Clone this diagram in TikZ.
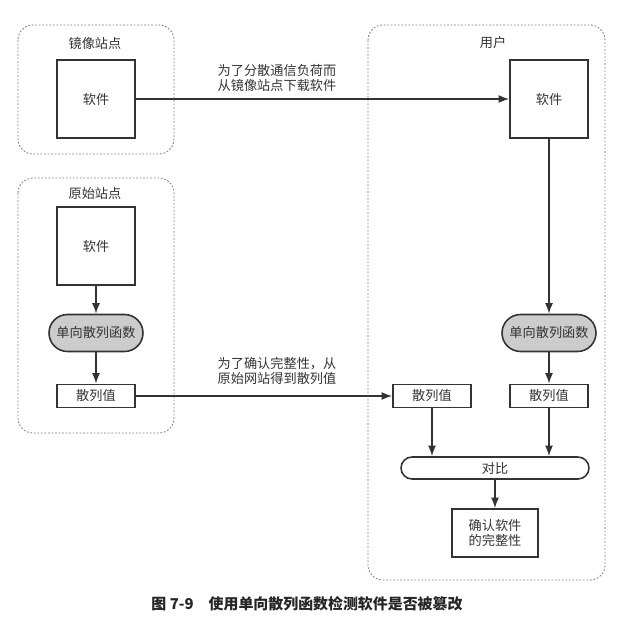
\documentclass[tikz,border=0pt]{standalone}
\usepackage{fontspec}
\setmainfont{Noto Sans CJK SC}
\usetikzlibrary{arrows.meta, positioning}

\begin{document}
\begin{tikzpicture}[x=0.02cm, y=-0.02cm,
  font=\fontsize{7.5}{9}\selectfont, text=black!80,
  group/.style={draw=black!50, dash pattern=on 1pt off 1pt, rounded corners=0.3cm, line width=0.5pt},
  softbox/.style={draw=black!80, line width=0.9pt, inner sep=0pt, minimum width=1.56cm, minimum height=1.56cm},
  hashbox/.style={draw=black!80, line width=0.9pt, inner sep=0pt, minimum width=1.56cm, minimum height=0.46cm},
  hashfn/.style={draw=black!80, fill=black!20, line width=0.9pt, inner sep=0pt, rounded corners=0.37cm, minimum width=1.88cm, minimum height=0.74cm},
  flow/.style={-{Latex[length=6pt,width=4.5pt]}, draw=black!80, line width=0.9pt}]
  \useasboundingbox (0,0) rectangle (630,622);

  % groups: \draw[group] (x1,y1) rectangle (x2,y2);
  \draw[group] (18,25) rectangle (174,154);
  \draw[group] (18,178) rectangle (174,433);
  \draw[group] (368,25) rectangle (605,580);
  \node (mirrortitle) at (95,43) {镜像站点};
  \node (origtitle) at (95,193) {原始站点};
  \node (usertitle) at (493,42) {用户};

  % mirror site and original site
  \node[softbox] (mirrorsw) at (96,99) {软件};
  \node[softbox] (origsw) at (96,246) {软件};
  \node[hashfn] (orighf) at (96,333) {单向散列函数};
  \node[hashbox] (orighv) at (96,396) {散列值};

  % user
  \node[softbox] (usersw) at (549,99) {软件};
  \node[hashfn] (userhf) at (549,333) {单向散列函数};
  \node[hashbox] (gothv) at (432,396) {散列值};
  \node[hashbox] (calchv) at (549,396) {散列值};
  \node[draw=black!80, line width=0.9pt, inner sep=0pt, rounded corners=0.22cm,
    minimum width=3.76cm, minimum height=0.44cm] (cmp) at (495,468) {对比};
  \node[draw=black!80, line width=0.9pt, inner sep=0pt, align=center,
    minimum width=1.72cm, minimum height=0.96cm] (confirm) at (495,533) {确认软件\\的完整性};

  % connectors
  \draw[flow] (mirrorsw) -- (usersw);
  \node[align=center] (dllabel) at (277,78) {为了分散通信负荷而\\从镜像站点下载软件};
  \draw[flow] (origsw) -- (orighf);
  \draw[flow] (orighf) -- (orighv);
  \draw[flow] (orighv) -- (gothv);
  \node[align=center] (getlabel) at (277,371) {为了确认完整性，从\\原始网站得到散列值};
  \draw[flow] (usersw) -- (userhf);
  \draw[flow] (userhf) -- (calchv);
  \draw[flow] (gothv) -- (gothv |- cmp.north);
  \draw[flow] (calchv) -- (calchv |- cmp.north);
  \draw[flow] (cmp) -- (confirm);

  \node[font=\fontsize{8.5}{10}\selectfont\bfseries, text=black!85] (caption) at (307,604)
    {图 7-9\quad 使用单向散列函数检测软件是否被篡改};
\end{tikzpicture}
\end{document}
